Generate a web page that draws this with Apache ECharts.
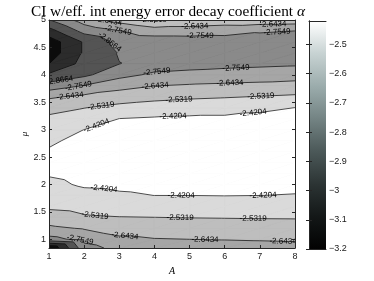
<!DOCTYPE html>
<html><head><meta charset="utf-8">
<script src="https://cdn.jsdelivr.net/npm/echarts@6/dist/echarts.min.js"></script>
<style>html,body{margin:0;padding:0;background:#fff}#c{width:374px;height:281px}</style>
</head><body><div id="c"></div>
<script>
// ---------- data ----------
const A_VALUES = [1, 2, 3, 4, 5, 6, 7, 8];
const MU_VALUES = [0.84, 1.0, 1.2, 1.4, 1.6, 1.8, 2.0, 2.2, 2.4, 2.6, 2.8, 3.0, 3.2, 3.4, 3.6, 3.8, 4.0, 4.2, 4.4, 4.6, 4.8, 5.0];
// alpha values, one array per A column, ordered by MU_VALUES
const Z_A1 = [-3.20, -2.79, -2.665, -2.585, -2.51, -2.47, -2.44, -2.412, -2.405, -2.412, -2.435, -2.47, -2.51, -2.57, -2.66, -2.82, -2.96, -3.09, -3.15, -3.15, -3.02, -2.87];
const Z_A2 = [-2.80, -2.72, -2.635, -2.545, -2.495, -2.445, -2.41, -2.395, -2.385, -2.385, -2.395, -2.42, -2.47, -2.535, -2.62, -2.75, -2.89, -2.94, -2.965, -2.965, -2.83, -2.70];
const Z_A3 = [-2.72, -2.67, -2.58, -2.535, -2.475, -2.43, -2.405, -2.39, -2.38, -2.375, -2.38, -2.395, -2.42, -2.50, -2.59, -2.68, -2.79, -2.868, -2.86, -2.83, -2.76, -2.60];
const Z_A4 = [-2.69, -2.648, -2.585, -2.532, -2.475, -2.42, -2.40, -2.385, -2.375, -2.372, -2.375, -2.39, -2.41, -2.48, -2.565, -2.645, -2.735, -2.81, -2.845, -2.82, -2.70, -2.53];
const Z_A5 = [-2.68, -2.643, -2.585, -2.529, -2.475, -2.42, -2.40, -2.385, -2.375, -2.372, -2.375, -2.39, -2.405, -2.465, -2.55, -2.632, -2.72, -2.80, -2.84, -2.815, -2.70, -2.56];
const Z_A6 = [-2.68, -2.64, -2.583, -2.527, -2.473, -2.418, -2.40, -2.385, -2.377, -2.373, -2.378, -2.39, -2.405, -2.455, -2.54, -2.625, -2.705, -2.79, -2.83, -2.81, -2.715, -2.58];
const Z_A7 = [-2.678, -2.636, -2.58, -2.525, -2.473, -2.42, -2.402, -2.387, -2.378, -2.374, -2.379, -2.39, -2.402, -2.435, -2.528, -2.618, -2.695, -2.78, -2.815, -2.80, -2.745, -2.575];
const Z_A8 = [-2.676, -2.632, -2.578, -2.524, -2.474, -2.423, -2.405, -2.39, -2.38, -2.375, -2.38, -2.39, -2.402, -2.42, -2.515, -2.605, -2.69, -2.77, -2.80, -2.79, -2.755, -2.58];
const LEVELS = [-3.0894, -2.9779, -2.8664, -2.7549, -2.6434, -2.5319, -2.4204];
// contour label placements (approximate A, mu, and which level)
const LABEL_A     = [3.73, 2.68, 5.15, 7.37, 2.96, 5.30, 7.49, 2.74, 6.32, 4.07, 1.31, 1.83, 1.60, 4.02, 6.15, 2.48, 4.70, 7.03, 2.31, 4.53, 6.81, 2.56, 4.76, 7.09, 2.31, 4.73, 6.81, 3.16, 5.44, 7.66, 1.88];
const LABEL_MU    = [4.97, 4.93, 4.89, 4.91, 4.78, 4.73, 4.78, 4.61, 4.12, 4.05, 3.88, 3.83, 3.61, 3.79, 3.83, 3.42, 3.55, 3.61, 3.15, 3.28, 3.33, 1.87, 1.79, 1.79, 1.43, 1.39, 1.37, 1.04, 1.00, 0.95, 0.93];
const LABEL_LEVEL = [-2.5319, -2.6434, -2.6434, -2.6434, -2.7549, -2.7549, -2.7549, -2.8664, -2.7549, -2.7549, -2.8664, -2.7549, -2.6434, -2.6434, -2.6434, -2.5319, -2.5319, -2.5319, -2.4204, -2.4204, -2.4204, -2.4204, -2.4204, -2.4204, -2.5319, -2.5319, -2.5319, -2.6434, -2.6434, -2.6434, -2.7549];
const X_TICKS = [1, 2, 3, 4, 5, 6, 7, 8];
const Y_TICKS = [1, 1.5, 2, 2.5, 3, 3.5, 4, 4.5, 5];
const CBAR_MIN = -3.2, CBAR_MAX = -2.4204;
const CBAR_TICKS = [-3.2, -3.1, -3.0, -2.9, -2.8, -2.7, -2.6, -2.5];

// ---------- styles ----------
const FILLS = ['#0c0c0c', '#2c2c2c', '#545454', '#8a8a8a', '#a6a6a6', '#bebebe', '#dadada', '#ffffff'];
const CBAR_STOPS = [
  [0, '#020202'], [0.14, '#131717'], [0.28, '#2b3333'], [0.43, '#4c5959'],
  [0.57, '#738383'], [0.71, '#9aabab'], [0.86, '#c8d3d3'], [1, '#ffffff']
];
const SANS = 'Liberation Sans, Arial, Helvetica, sans-serif';
const SERIF = 'Liberation Serif, Times New Roman, serif';

const Z_COLS = [Z_A1, Z_A2, Z_A3, Z_A4, Z_A5, Z_A6, Z_A7, Z_A8];

function triangles() {
  const tris = [];
  for (let i = 0; i < A_VALUES.length - 1; i++) {
    for (let j = 0; j < MU_VALUES.length - 1; j++) {
      const p = (ii, jj) => ({ a: A_VALUES[ii], m: MU_VALUES[jj], z: Z_COLS[ii][jj] });
      const p00 = p(i, j), p10 = p(i + 1, j), p11 = p(i + 1, j + 1), p01 = p(i, j + 1);
      tris.push([p00, p10, p11]);
      tris.push([p00, p11, p01]);
    }
  }
  return tris;
}
function clipAbove(poly, L) {
  const out = [];
  for (let k = 0; k < poly.length; k++) {
    const p = poly[k], q = poly[(k + 1) % poly.length];
    const pin = p.z >= L, qin = q.z >= L;
    if (pin) out.push(p);
    if (pin !== qin) {
      const t = (L - p.z) / (q.z - p.z);
      out.push({ a: p.a + t * (q.a - p.a), m: p.m + t * (q.m - p.m), z: L });
    }
  }
  return out;
}
function crossings(tri, L) {
  const pts = [];
  for (let k = 0; k < 3; k++) {
    const p = tri[k], q = tri[(k + 1) % 3];
    if ((p.z >= L) !== (q.z >= L)) {
      const t = (L - p.z) / (q.z - p.z);
      pts.push([p.a + t * (q.a - p.a), p.m + t * (q.m - p.m)]);
    }
  }
  return pts.length === 2 ? pts : null;
}
function nearestOnSeg(p, q, tp) {
  const dx = q[0] - p[0], dy = q[1] - p[1];
  const len2 = dx * dx + dy * dy;
  let t = len2 ? ((tp[0] - p[0]) * dx + (tp[1] - p[1]) * dy) / len2 : 0;
  t = Math.max(0, Math.min(1, t));
  const x = p[0] + t * dx, y = p[1] + t * dy;
  return { d: (x - tp[0]) ** 2 + (y - tp[1]) ** 2, x, y, dx, dy };
}

function renderContour(params, api) {
  const children = [];
  const tris = triangles();
  const c = (a, m) => api.coord([a, m]);
  const a0 = A_VALUES[0], a1 = A_VALUES[A_VALUES.length - 1];
  const m0 = MU_VALUES[0], m1 = MU_VALUES[MU_VALUES.length - 1];
  children.push({ type: 'polygon', shape: { points: [c(a0, m0), c(a1, m0), c(a1, m1), c(a0, m1)] }, style: { fill: FILLS[0] } });
  LEVELS.forEach((L, k) => {
    const col = FILLS[k + 1];
    tris.forEach(t => {
      const poly = clipAbove(t, L);
      if (poly.length >= 3) {
        children.push({ type: 'polygon', shape: { points: poly.map(p => c(p.a, p.m)) }, style: { fill: col, stroke: col, lineWidth: 0.6 } });
      }
    });
  });
  const segsByLevel = {};
  LEVELS.forEach(L => {
    const segs = [];
    tris.forEach(t => {
      const cr = crossings(t, L);
      if (cr) {
        const p = c(cr[0][0], cr[0][1]), q = c(cr[1][0], cr[1][1]);
        segs.push([p, q]);
        children.push({ type: 'line', shape: { x1: p[0], y1: p[1], x2: q[0], y2: q[1] }, style: { stroke: '#000', lineWidth: 0.7 } });
      }
    });
    segsByLevel[L.toFixed(4)] = segs;
  });
  LABEL_A.forEach((la, i) => {
    const key = LABEL_LEVEL[i].toFixed(4);
    const segs = segsByLevel[key] || [];
    const tp = c(la, LABEL_MU[i]);
    let best = null;
    segs.forEach(([p, q]) => {
      const r = nearestOnSeg(p, q, tp);
      if (!best || r.d < best.d) best = r;
    });
    let x = tp[0], y = tp[1], rot = 0;
    if (best && best.d < 400) {
      x = best.x; y = best.y;
      const bl = Math.hypot(best.dx, best.dy) || 1;
      const ref = [best.dx / bl, best.dy / bl];
      let sx = 0, sy = 0;
      segs.forEach(([p, q]) => {
        const r = nearestOnSeg(p, q, [x, y]);
        if (r.d < 14 * 14) {
          let vx = q[0] - p[0], vy = q[1] - p[1];
          if (vx * ref[0] + vy * ref[1] < 0) { vx = -vx; vy = -vy; }
          sx += vx; sy += vy;
        }
      });
      rot = Math.atan2(-sy, sx);
      if (rot > Math.PI / 2) rot -= Math.PI;
      if (rot < -Math.PI / 2) rot += Math.PI;
    }
    children.push({ type: 'text', x, y, rotation: rot, style: { text: key, fontSize: 8, fontFamily: SANS, fill: '#000', align: 'center', verticalAlign: 'middle' } });
  });
  return { type: 'group', children };
}

function renderBar(params, api) {
  const p0 = api.coord([0, CBAR_MIN]), p1 = api.coord([1, CBAR_MAX]);
  return {
    type: 'rect',
    shape: { x: p0[0], y: p1[1], width: p1[0] - p0[0], height: p0[1] - p1[1] },
    style: { fill: new echarts.graphic.LinearGradient(0, 1, 0, 0, CBAR_STOPS.map(s => ({ offset: s[0], color: s[1] }))) }
  };
}

const AX = '#262626';
const lbl = { fontFamily: SANS, fontSize: 9, color: '#1a1a1a' };
const chart = echarts.init(document.getElementById('c'), null, { renderer: 'canvas' });
chart.setOption({
  animation: false,
  backgroundColor: '#fff',
  title: {
    text: 'CI w/eff. int energy error decay coefficient {a|α}',
    left: 26, top: -1,
    textStyle: { fontFamily: SERIF, fontSize: 15.3, fontWeight: 'normal', color: '#000',
      rich: { a: { fontFamily: SERIF, fontSize: 15.3, fontStyle: 'italic', color: '#000' } } }
  },
  grid: [
    { left: 49, top: 20, width: 246, height: 228 },
    { left: 309, top: 21, width: 17, height: 228 }
  ],
  xAxis: [
    { gridIndex: 0, type: 'value', min: 1, max: 8, interval: 1, position: 'bottom', z: 5,
      name: 'A', nameLocation: 'middle', nameGap: 17,
      nameTextStyle: { fontFamily: SERIF, fontStyle: 'italic', fontSize: 10, color: '#000' },
      axisLine: { lineStyle: { color: AX, width: 1.2 } },
      axisTick: { inside: true, length: 3, lineStyle: { color: AX } },
      axisLabel: Object.assign({ margin: 4 }, lbl), splitLine: { show: false } },
    { gridIndex: 0, type: 'value', min: 1, max: 8, interval: 1, position: 'top', z: 5,
      axisLine: { lineStyle: { color: AX, width: 1 } },
      axisTick: { inside: true, length: 3, lineStyle: { color: AX } },
      axisLabel: { show: false }, splitLine: { show: false } },
    { gridIndex: 1, type: 'value', min: 0, max: 1, position: 'bottom', z: 5,
      axisLine: { lineStyle: { color: AX, width: 1 } }, axisTick: { show: false },
      axisLabel: { show: false }, splitLine: { show: false } },
    { gridIndex: 1, type: 'value', min: 0, max: 1, position: 'top', z: 5,
      axisLine: { lineStyle: { color: AX, width: 1 } }, axisTick: { show: false },
      axisLabel: { show: false }, splitLine: { show: false } }
  ],
  yAxis: [
    { gridIndex: 0, type: 'value', min: MU_VALUES[0], max: 5, position: 'left', z: 5,
      name: 'μ', nameLocation: 'middle', nameGap: 20, nameRotate: 90, nameMoveOverlap: false,
      nameTextStyle: { fontFamily: SERIF, fontStyle: 'italic', fontSize: 9, color: '#000' },
      axisLine: { lineStyle: { color: AX, width: 1 } },
      axisTick: { inside: true, length: 3, lineStyle: { color: AX }, customValues: Y_TICKS },
      axisLabel: Object.assign({ margin: 3, customValues: Y_TICKS }, lbl), splitLine: { show: false } },
    { gridIndex: 0, type: 'value', min: MU_VALUES[0], max: 5, position: 'right', z: 5,
      axisLine: { lineStyle: { color: AX, width: 1 } },
      axisTick: { inside: true, length: 3, lineStyle: { color: AX }, customValues: Y_TICKS },
      axisLabel: { show: false }, splitLine: { show: false } },
    { gridIndex: 1, type: 'value', min: CBAR_MIN, max: CBAR_MAX, position: 'right', z: 5,
      axisLine: { lineStyle: { color: AX, width: 1 } },
      axisTick: { inside: true, length: 3, lineStyle: { color: AX }, customValues: CBAR_TICKS },
      axisLabel: Object.assign({ margin: 3, customValues: CBAR_TICKS,
        formatter: v => (v < 0 ? '\u2212' : '') + String(Math.round(Math.abs(v) * 10) / 10) }, lbl),
      splitLine: { show: false } },
    { gridIndex: 1, type: 'value', min: CBAR_MIN, max: CBAR_MAX, position: 'left', z: 5,
      axisLine: { lineStyle: { color: AX, width: 1 } },
      axisTick: { inside: true, length: 3, lineStyle: { color: AX }, customValues: CBAR_TICKS },
      axisLabel: { show: false }, splitLine: { show: false } }
  ],
  series: [
    { type: 'custom', xAxisIndex: 0, yAxisIndex: 0, clip: true, silent: true, z: 2,
      renderItem: renderContour, data: [[A_VALUES[0], MU_VALUES[0]]] },
    { type: 'custom', xAxisIndex: 2, yAxisIndex: 2, clip: true, silent: true, z: 2,
      renderItem: renderBar, data: [[0, CBAR_MIN]] }
  ]
});
</script>
</body></html>
